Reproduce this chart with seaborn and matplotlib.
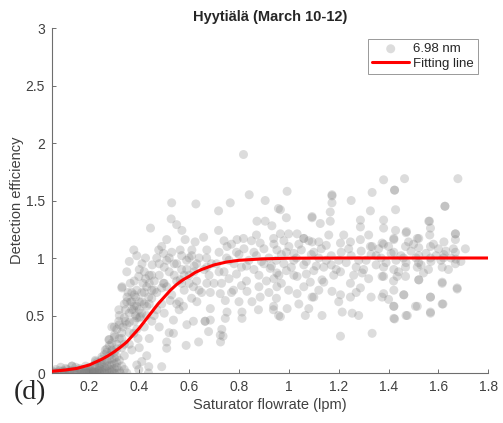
import numpy as np
import pandas as pd
import seaborn as sns
import matplotlib.pyplot as plt
from matplotlib.ticker import FuncFormatter

# Detection efficiency vs saturator flowrate, 6.98 nm particles (Hyytiala, March 10-12)
# low-flow part: almost no detection
low_flow = [0.05, 0.06, 0.07, 0.08, 0.09, 0.10, 0.11, 0.12, 0.13, 0.14, 0.15, 0.16, 0.17, 0.18, 0.19, 0.20, 0.21, 0.22, 0.23, 0.24,
            0.055, 0.075, 0.095, 0.115, 0.135, 0.155, 0.175, 0.195, 0.215, 0.235, 0.245, 0.225, 0.205, 0.185, 0.165, 0.145, 0.125, 0.105, 0.085, 0.065,
            0.20, 0.21, 0.22, 0.23, 0.24, 0.25, 0.19, 0.18, 0.22, 0.24, 0.25, 0.23,
            0.26, 0.26, 0.27, 0.27, 0.28, 0.28, 0.28, 0.29, 0.29, 0.29, 0.30, 0.30, 0.30, 0.31, 0.31, 0.31, 0.32, 0.32, 0.32, 0.33,
            0.33, 0.26, 0.27, 0.28, 0.29, 0.30, 0.31, 0.32, 0.33, 0.25, 0.27, 0.29, 0.31, 0.26, 0.28, 0.30, 0.32, 0.34, 0.34, 0.35,
            0.278, 0.30, 0.33, 0.264, 0.29, 0.31, 0.25, 0.224, 0.13, 0.29, 0.318, 0.345, 0.318, 0.345, 0.331, 0.33, 0.34, 0.335, 0.34, 0.323,
            0.06, 0.08, 0.10, 0.12, 0.14, 0.16, 0.18, 0.20, 0.22, 0.24, 0.25, 0.26, 0.27, 0.28, 0.29, 0.30, 0.31, 0.28, 0.27, 0.30]
low_eff = [0.00, 0.01, 0.00, 0.02, 0.01, 0.00, 0.03, 0.01, 0.06, 0.02, 0.00, 0.04, 0.01, 0.03, 0.00, 0.05, 0.02, 0.07, 0.01, 0.04,
           0.01, 0.00, 0.02, 0.00, 0.01, 0.02, 0.00, 0.01, 0.00, 0.02, 0.08, 0.10, 0.04, 0.06, 0.03, 0.05, 0.02, 0.04, 0.05, 0.03,
           0.00, 0.01, 0.03, 0.00, 0.02, 0.01, 0.02, 0.00, 0.00, 0.06, 0.12, 0.09,
           0.00, 0.05, 0.02, 0.10, 0.00, 0.07, 0.15, 0.03, 0.12, 0.20, 0.00, 0.08, 0.18, 0.05, 0.14, 0.25, 0.02, 0.11, 0.30, 0.06,
           0.22, 0.16, 0.21, 0.29, 0.26, 0.33, 0.38, 0.42, 0.35, 0.14, 0.00, 0.01, 0.00, 0.09, 0.24, 0.40, 0.50, 0.03, 0.15, 0.00,
           0.29, 0.31, 0.30, 0.20, 0.19, 0.21, 0.08, 0.11, 0.06, 0.40, 0.45, 0.45, 0.55, 0.55, 0.75, 0.74, 0.60, 0.40, 0.25, 0.00,
           0.00, 0.00, 0.01, 0.00, 0.00, 0.01, 0.01, 0.02, 0.01, 0.00, 0.03, 0.02, 0.06, 0.03, 0.07, 0.04, 0.09, 0.12, 0.18, 0.13]

# rising part
rise_flow = [0.378, 0.411, 0.452, 0.364, 0.398, 0.425, 0.351, 0.385, 0.438, 0.378, 0.405, 0.378, 0.445, 0.478, 0.438, 0.398, 0.39, 0.437, 0.49, 0.49,
             0.35, 0.36, 0.36, 0.37, 0.37, 0.38, 0.38, 0.39, 0.39, 0.39, 0.40, 0.40, 0.41, 0.41, 0.42, 0.42, 0.42, 0.43, 0.43, 0.44,
             0.44, 0.45, 0.45, 0.35, 0.36, 0.37, 0.40, 0.43, 0.41, 0.355, 0.385, 0.415, 0.365, 0.395, 0.425, 0.44, 0.39, 0.36, 0.38, 0.40,
             0.53, 0.627, 0.528, 0.55, 0.588, 0.638, 0.51, 0.537, 0.664, 0.571, 0.51, 0.584, 0.624, 0.658, 0.564, 0.611, 0.497, 0.497, 0.564, 0.617,
             0.524, 0.577, 0.631, 0.685, 0.537, 0.591, 0.617, 0.685, 0.51, 0.671, 0.671, 0.47, 0.48, 0.49, 0.50, 0.51, 0.52, 0.53, 0.54, 0.55,
             0.56, 0.57, 0.58, 0.59, 0.60, 0.61, 0.62, 0.63, 0.64, 0.65, 0.46, 0.48, 0.50, 0.52, 0.47, 0.49, 0.51, 0.53, 0.55, 0.57,
             0.60, 0.62, 0.46, 0.56, 0.58, 0.63, 0.66, 0.67, 0.68, 0.69, 0.70, 0.678, 0.664, 0.671, 0.685, 0.64, 0.60, 0.55, 0.47, 0.45,
             0.34, 0.35, 0.36, 0.37, 0.38, 0.39, 0.40, 0.41, 0.42, 0.43, 0.44, 0.45, 0.46, 0.48, 0.50, 0.52, 0.54, 0.57, 0.59, 0.61]
rise_eff = [1.07, 0.95, 0.94, 0.78, 0.84, 0.82, 0.66, 0.66, 0.66, 0.55, 0.49, 0.345, 1.26, 1.07, 0.055, 0.03, 0.07, 0.00, 0.055, 0.74,
            0.42, 0.35, 0.52, 0.62, 0.70, 0.45, 0.80, 0.38, 0.58, 0.72, 0.62, 0.90, 0.52, 0.70, 0.40, 0.60, 0.88, 0.50, 0.75, 0.30,
            0.85, 0.45, 0.65, 0.88, 0.97, 0.20, 0.22, 0.15, 0.10, 0.70, 0.50, 0.78, 0.62, 0.30, 1.00, 0.60, 1.02, 0.25, 0.58, 0.48,
            1.48, 1.47, 1.34, 1.29, 0.24, 0.27, 0.215, 0.345, 0.45, 1.24, 1.16, 1.16, 1.14, 1.18, 1.07, 1.07, 1.04, 0.78, 0.81, 0.75,
            0.63, 0.58, 0.62, 0.56, 0.46, 0.42, 0.45, 0.46, 0.27, 0.78, 1.07, 0.70, 0.85, 0.60, 0.92, 0.75, 0.88, 0.68, 0.95, 0.80,
            0.62, 0.90, 0.72, 0.98, 0.85, 0.65, 0.93, 0.80, 1.00, 0.70, 0.50, 0.40, 0.52, 0.35, 1.00, 1.10, 0.98, 1.05, 0.95, 1.02,
            1.00, 0.88, 0.80, 0.55, 0.85, 0.95, 0.90, 1.00, 0.85, 0.95, 0.78, 0.36, 0.45, 0.92, 0.70, 0.72, 0.78, 0.60, 0.55, 0.72,
            0.48, 0.62, 0.44, 0.55, 0.68, 0.48, 0.55, 0.62, 0.70, 0.58, 0.78, 0.85, 0.72, 0.95, 0.78, 1.00, 0.85, 0.78, 0.90, 1.02]

# plateau part (flow, efficiency)
plateau_pts = [
    (0.718, 1.41), (0.765, 1.48), (0.818, 1.90), (0.841, 1.55), (0.905, 1.50), (0.958, 1.43), (0.718, 1.24), (0.792, 1.16), (0.818, 1.17), (0.872, 1.32),
    (0.905, 1.32), (0.885, 1.13), (0.752, 1.10), (0.725, 0.69), (0.778, 0.72), (0.832, 0.71), (0.885, 0.66), (0.745, 0.63), (0.812, 0.53), (0.852, 0.62),
    (0.752, 0.53), (0.731, 0.38), (0.725, 0.33), (0.736, 0.32), (0.726, 0.27), (0.745, 0.475), (0.812, 0.475), (0.878, 0.55), (0.938, 0.55), (0.966, 0.49),
    (0.993, 1.58), (1.173, 1.55), (1.25, 1.50), (1.334, 1.57), (0.966, 1.42), (1.173, 1.48), (1.327, 1.41), (1.166, 1.40), (0.99, 1.35), (1.093, 1.35),
    (1.126, 1.30), (1.166, 1.32), (1.287, 1.33), (0.932, 1.28), (1.287, 1.27), (0.939, 1.17), (0.966, 1.21), (0.999, 1.21), (1.033, 1.21), (1.06, 1.17),
    (1.093, 1.14), (1.12, 1.14), (1.15, 1.11), (1.207, 1.13), (1.247, 1.14), (1.287, 1.16), (1.327, 1.10), (0.952, 1.07), (0.99, 1.05), (1.02, 1.04),
    (0.925, 0.91), (0.952, 0.87), (0.99, 0.89), (1.033, 0.84), (1.06, 0.94), (1.10, 0.89), (1.133, 0.81), (1.17, 0.94), (1.207, 0.88), (1.247, 0.78),
    (1.294, 0.87), (1.32, 0.82), (0.952, 0.75), (0.999, 0.72), (1.033, 0.69), (1.06, 0.75), (1.093, 0.66), (1.14, 0.79), (1.173, 0.71), (1.207, 0.68),
    (1.247, 0.66), (1.287, 0.74), (1.33, 0.66), (0.939, 0.58), (0.993, 0.56), (0.959, 0.50), (1.066, 0.50), (1.133, 0.50), (1.214, 0.53), (1.254, 0.52),
    (1.28, 0.50), (1.207, 0.32), (1.334, 0.345), (1.421, 0.475), (1.47, 0.50), (1.568, 0.53), (1.618, 0.60), (1.508, 0.58), (1.421, 0.58), (1.374, 0.66),
    (1.461, 0.68), (1.568, 0.66), (1.675, 0.73), (1.615, 0.79), (1.521, 0.81), (1.434, 0.84), (1.374, 0.84), (1.086, 0.79), (1.10, 0.66), (1.08, 0.56),
    (1.38, 1.68), (1.464, 1.69), (1.678, 1.69), (1.424, 1.59), (1.428, 1.42), (1.626, 1.45), (1.38, 1.33), (1.38, 1.26), (1.428, 1.24), (1.472, 1.23),
    (1.561, 1.32), (1.568, 1.26), (1.565, 1.20), (1.38, 1.12), (1.421, 1.16), (1.468, 1.10), (1.521, 1.17), (1.521, 1.09), (1.568, 1.10), (1.622, 1.14),
    (1.668, 1.21), (1.668, 1.16), (1.708, 1.08), (1.421, 1.05), (1.668, 1.05), (1.622, 1.03), (1.521, 1.02), (1.38, 0.84), (1.421, 0.90), (1.468, 0.92),
    (1.515, 0.92), (1.568, 1.00), (1.615, 0.92), (1.668, 0.95), (1.38, 0.69), (1.421, 0.72), (1.461, 0.68), (1.468, 0.84), (1.521, 0.81), (1.568, 0.66),
    (1.615, 0.78), (1.675, 0.74), (1.421, 0.58), (1.475, 0.50), (1.424, 0.47), (1.568, 0.52), (1.615, 0.60), (1.515, 0.58), (1.173, 1.54), (1.424, 1.59),
    (1.626, 1.45), (1.093, 1.36), (1.564, 1.32), (1.47, 1.22), (1.668, 1.21), (1.06, 1.17), (1.334, 1.10), (1.374, 1.13), (1.421, 1.17), (1.515, 1.17),
    (0.71, 0.95), (0.72, 1.05), (0.74, 0.88), (0.75, 1.00), (0.76, 0.82), (0.77, 1.12), (0.78, 0.95), (0.79, 0.86), (0.80, 1.03), (0.81, 0.92),
    (0.82, 1.08), (0.83, 0.80), (0.84, 0.98), (0.85, 1.15), (0.86, 0.90), (0.87, 1.02), (0.88, 0.85), (0.89, 0.97), (0.90, 1.08), (0.91, 0.80),
    (0.92, 1.00), (0.93, 0.93), (0.94, 1.12), (0.95, 0.98), (0.96, 0.85), (0.97, 1.03), (0.98, 0.95), (1.00, 1.10), (1.01, 0.92), (1.03, 1.00),
    (1.05, 1.07), (1.07, 0.97), (1.09, 1.03), (1.11, 0.93), (1.13, 1.08), (1.15, 0.98), (1.17, 1.02), (1.19, 0.90), (1.21, 1.05), (1.23, 0.96),
    (1.25, 1.02), (1.27, 0.92), (1.29, 1.06), (1.31, 0.98), (1.33, 1.03), (1.35, 0.94), (1.37, 1.00), (1.39, 0.96), (1.41, 1.04), (1.43, 0.98),
    (1.45, 1.02), (1.47, 0.96), (1.49, 1.06), (1.51, 1.00), (1.53, 0.94), (1.55, 1.04), (1.57, 0.97), (1.59, 1.02), (1.61, 0.98), (1.63, 1.06),
    (1.65, 1.00), (1.67, 0.99), (0.73, 0.78), (0.77, 0.70), (0.81, 0.76), (0.86, 1.05), (0.92, 0.70), (0.97, 0.78), (1.02, 0.85), (1.08, 1.15),
    (1.12, 1.00), (1.18, 0.85), (1.22, 1.20), (1.30, 0.90), (1.36, 1.08), (1.44, 0.88), (1.50, 1.12), (1.54, 0.87), (1.60, 1.08), (1.64, 0.90),
    (0.72, 0.88), (0.74, 1.15), (0.76, 0.98), (0.79, 1.05), (0.83, 0.93), (0.87, 1.20), (0.90, 0.95), (0.94, 0.82), (0.98, 1.15), (1.02, 0.98),
    (1.04, 1.12), (1.07, 0.86), (1.10, 1.05), (1.14, 0.92), (1.16, 1.20), (1.20, 0.98), (1.24, 1.08), (1.26, 0.85), (1.28, 0.98), (1.32, 1.20),
    (1.35, 1.02), (1.38, 0.92), (1.40, 1.10), (1.42, 0.80), (1.46, 1.00), (1.48, 1.14), (1.52, 0.96), (1.56, 0.90), (1.58, 1.12), (1.62, 1.00),
    (1.66, 1.08), (1.69, 0.97), (0.80, 0.62), (0.88, 0.75), (0.95, 0.65), (1.04, 0.60), (1.12, 0.72), (1.20, 0.62), (1.27, 0.70), (1.40, 0.64),
]

# fitted curve
fit_flow = [0.05, 0.10, 0.15, 0.175, 0.20, 0.225, 0.25, 0.275, 0.30, 0.325, 0.35, 0.375, 0.40, 0.425, 0.45, 0.475,
            0.50, 0.525, 0.55, 0.575, 0.60, 0.625, 0.65, 0.70, 0.75, 0.80, 0.90, 1.00, 1.20, 1.50, 1.80]
fit_eff = [0.015, 0.025, 0.04, 0.055, 0.07, 0.095, 0.12, 0.15, 0.185, 0.225, 0.27, 0.33, 0.39, 0.46, 0.53, 0.60,
           0.66, 0.72, 0.77, 0.81, 0.84, 0.875, 0.90, 0.94, 0.965, 0.98, 0.993, 0.998, 1.0, 1.0, 1.0]

sns.set_style("ticks")
plt.rcParams['font.family'] = ['Liberation Sans', 'DejaVu Sans']

points = pd.DataFrame({
    "flow": low_flow + rise_flow + [p[0] for p in plateau_pts],
    "eff": low_eff + rise_eff + [p[1] for p in plateau_pts],
})

fig = plt.figure(figsize=(5.03, 4.23), dpi=100)
ax = fig.add_axes([0.1034, 0.1182, 0.8674, 0.8156])

sns.scatterplot(data=points, x="flow", y="eff", color="#808080", alpha=0.27, s=42,
                edgecolor="none", label="6.98 nm", ax=ax, zorder=2)
sns.lineplot(x=fit_flow, y=fit_eff, color="red", linewidth=2.2, label="Fitting line",
             ax=ax, estimator=None, zorder=3)

ax.set_xlim(0.05, 1.8)
ax.set_ylim(0, 3)
ax.set_xticks(np.arange(0.2, 1.81, 0.2))
ax.set_yticks(np.arange(0, 3.01, 0.5))
fmt = FuncFormatter(lambda v, _: f"{v:g}")
ax.xaxis.set_major_formatter(fmt)
ax.yaxis.set_major_formatter(fmt)

sns.despine(ax=ax)
for side in ["left", "bottom"]:
    ax.spines[side].set_color("#6e6e6e")
    ax.spines[side].set_linewidth(0.8)
ax.tick_params(direction="in", length=3, width=0.7, color="#6e6e6e",
               labelsize=10, labelcolor="#404040", pad=5)

ax.set_title("Hyytiälä (March 10-12)", fontsize=10.5, fontweight="bold", pad=5)
ax.set_xlabel("Saturator flowrate (lpm)", fontsize=10.5, color="#404040", labelpad=3)
ax.set_ylabel("Detection efficiency", fontsize=10.5, color="#404040", labelpad=1)

leg = ax.legend(loc="upper right", bbox_to_anchor=(0.976, 0.968), borderaxespad=0,
                fontsize=9.5, frameon=True, fancybox=False, handlelength=2.8,
                handletextpad=0.3, borderpad=0.3, labelspacing=0.2)
leg.get_frame().set_edgecolor("#808080")
leg.get_frame().set_linewidth(0.7)

fig.text(0.028, 0.056, "(d)", family="Liberation Serif", fontsize=20, va="baseline")

fig.savefig("out.png", dpi=100)
